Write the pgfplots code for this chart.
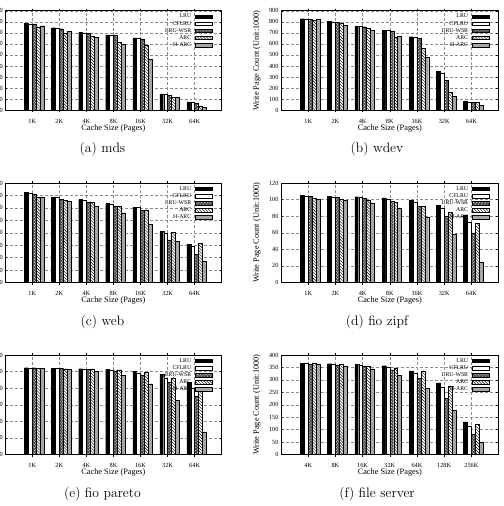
\documentclass[border=0pt]{standalone}
\usepackage{fontspec}
\usepackage{pgfplots}
\pgfplotsset{compat=1.18}
\usetikzlibrary{patterns}
\newfontfamily\timesf{Liberation Serif}

% Write page counts (unit: 1000 pages) per cache size
\pgfplotstableread{
x lru cflru wsr arc harc
1 786 780 780 755 764
2 746 740 737 700 716
3 704 700 698 671 662
4 682 680 677 613 601
5 655 649 646 586 465
6 148 142 136 115 118
7 75 70 67 39 27
}\mds
\pgfplotstableread{
x lru cflru wsr arc harc
1 828 825 824 815 822
2 803 800 797 785 765
3 760 757 755 740 722
4 722 720 717 660 666
5 665 660 650 560 478
6 350 335 272 160 125
7 80 75 72 70 45
}\wdev
\pgfplotstableread{
x lru cflru wsr arc harc
1 726 718 707 686 683
2 688 683 667 662 651
3 667 662 646 643 614
4 635 627 614 617 561
5 606 603 579 585 468
6 412 399 340 407 330
7 308 295 226 314 173
}\web
\pgfplotstableread{
x lru cflru wsr arc harc
1 105.0 104.5 103.8 102.0 101.0
2 104.0 103.5 102.5 101.0 99.5
3 103.5 103.0 101.5 99.5 96.0
4 102.0 101.0 98.0 96.5 90.0
5 99.0 97.0 92.0 92.5 79.0
6 93.0 89.5 80.0 84.5 58.0
7 81.0 73.0 60.0 71.0 25.0
}\zipf
\pgfplotstableread{
x lru cflru wsr arc harc
1 104.7 104.7 104.7 104.3 103.9
2 103.9 103.9 103.9 103.5 102.7
3 103.5 103.1 103.1 103.5 100.3
4 102.7 101.9 101.1 102.3 95.4
5 100.7 98.7 95.8 99.0 85.4
6 96.6 92.6 87.4 92.6 66.0
7 87.4 80.5 70.5 79.3 27.4
}\pareto
\pgfplotstableread{
x lru cflru wsr arc harc
1 367 366 363 367 363
2 365 363 358 364 356
3 362 360 355 355 345
4 357 352 340 349 318
5 336 327 306 337 268
6 288 270 226 273 178
7 131 112 80 121 50
}\fileserver

\pgfplotsset{
  barlegend/.style={legend image code/.code={%
      \draw[##1] (0bp,-1.7bp) rectangle (17bp,1.7bp);}},
  lru/.style={draw=black, line width=0.3bp, fill=black, bar shift=-0.2142857, barlegend},
  cflru/.style={draw=black, line width=0.3bp, fill=white, bar shift=-0.0714286, barlegend},
  wsr/.style={draw=black, line width=0.3bp, fill=black!70,
      postaction={pattern=crosshatch dots, pattern color=white}, bar shift=0.0714286, barlegend},
  arc/.style={draw=black, line width=0.3bp, fill=white,
      postaction={pattern=north west lines, pattern color=black}, bar shift=0.2142857, barlegend},
  harc/.style={draw=black, line width=0.3bp, fill=black!35, bar shift=0.3571429, barlegend},
  cachebars/.style={
    scale only axis,
    height=99.5bp,
    xmin=0, xmax=8,
    xtick={1,...,7},
    ymin=0,
    tick align=inside,
    tick pos=both,
    major tick length=2.2bp,
    grid=major,
    major grid style={densely dashed, black!45, line width=0.35bp},
    axis line style={line width=0.5bp},
    every tick/.style={black, line width=0.4bp},
    /pgf/number format/assume math mode=true,
    tick label style={font=\timesf\fontsize{6.3bp}{7bp}\selectfont},
    xticklabel style={anchor=base, yshift=-10.7bp, inner sep=0pt},
    yticklabel style={anchor=east, inner sep=0pt, xshift=-2.3bp},
    xlabel={Cache Size (Pages)},
    xlabel style={at={(axis description cs:0.5,0)}, anchor=base, yshift=-20bp,
      inner sep=0pt, font=\timesf\fontsize{8.3bp}{9bp}\selectfont},
    ybar, bar width=0.142857,
    legend plot pos=right,
    legend cell align=right,
    legend style={draw=none, fill=none, at={(1,1)}, anchor=north east,
      xshift=-9.5bp, yshift=-2.6bp, inner sep=0pt,
      font=\timesf\fontsize{5.8bp}{6bp}\selectfont,
      row sep=1bp, column sep=3bp,
      nodes={inner sep=0.5bp, text height=4bp, text depth=1.1bp}},
  },
  leftcol/.style={cachebars, width=216.5bp},
  rightcol/.style={cachebars, width=217.6bp},
}

\newcommand{\cachebars}[1]{%
  \addplot[lru] table[x=x, y=lru] {#1};
  \addplot[cflru] table[x=x, y=cflru] {#1};
  \addplot[wsr] table[x=x, y=wsr] {#1};
  \addplot[arc] table[x=x, y=arc] {#1};
  \addplot[harc] table[x=x, y=harc] {#1};
  \legend{LRU, CFLRU, LRU-WSR, ARC, H-ARC}}

\newcommand{\subcap}[3]{\node[anchor=base, inner sep=0pt,
  font=\fontsize{13.7bp}{16bp}\selectfont] at (#1bp,-#2bp) {#3};}
\newcommand{\ylab}[2]{\node[rotate=90, inner sep=0pt,
  font=\timesf\fontsize{8.3bp}{9bp}\selectfont] at (#1bp,-#2bp) {Write Page Count (Unit:1000)};}

\begin{document}
\begin{tikzpicture}
% (a) mds
\begin{axis}[leftcol, at={(5.2bp,-10.7bp)}, anchor=north west,
  ymax=900, ytick distance=100,
  xticklabels={1K,2K,4K,8K,16K,32K,64K}]
\cachebars{\mds}
\end{axis}
% (b) wdev
\begin{axis}[rightcol, at={(281bp,-10.7bp)}, anchor=north west,
  ymax=900, ytick distance=100,
  xticklabels={1K,2K,4K,8K,16K,32K,64K}]
\cachebars{\wdev}
\end{axis}
% (c) web
\begin{axis}[leftcol, at={(5.2bp,-183bp)}, anchor=north west,
  ymax=800, ytick distance=100,
  xticklabels={1K,2K,4K,8K,16K,32K,64K}]
\cachebars{\web}
\end{axis}
% (d) fio zipf
\begin{axis}[rightcol, at={(281bp,-183bp)}, anchor=north west,
  ymax=120, ytick distance=20,
  xticklabels={1K,2K,4K,8K,16K,32K,64K}]
\cachebars{\zipf}
\end{axis}
% (e) fio pareto
\begin{axis}[leftcol, at={(5.2bp,-355bp)}, anchor=north west,
  ymax=120, ytick distance=20,
  xticklabels={1K,2K,4K,8K,16K,32K,64K}]
\cachebars{\pareto}
\end{axis}
% (f) file server
\begin{axis}[rightcol, at={(281bp,-355bp)}, anchor=north west,
  ymax=400, ytick distance=50,
  xticklabels={4K,8K,16K,32K,64K,128K,256K}]
\cachebars{\fileserver}
\end{axis}

\ylab{257}{60.45}
\ylab{257}{232.75}
\ylab{257}{404.75}

\subcap{102.5}{152.6}{(a)\ mds}
\subcap{377}{152.6}{(b)\ wdev}
\subcap{102.5}{325}{(c)\ web}
\subcap{377}{325}{(d)\ fio zipf}
\subcap{102.5}{497}{(e)\ fio pareto}
\subcap{377}{497}{(f)\ file server}

\pgfresetboundingbox
\useasboundingbox (0bp,0bp) rectangle (504bp,-506bp);
\end{tikzpicture}
\end{document}
